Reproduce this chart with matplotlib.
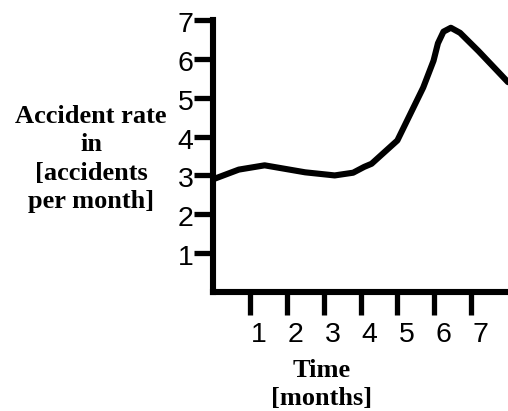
import matplotlib
matplotlib.use("Agg")
import matplotlib.pyplot as plt
from matplotlib.transforms import ScaledTranslation

# Data
time_months = [0, 0.7, 1.4, 2.5, 3.3, 3.8, 4.1, 4.3, 5.0, 5.7, 5.98, 6.1, 6.25, 6.45, 6.7, 7.2, 8.0]
accident_rate = [2.9, 3.15, 3.26, 3.08, 3.0, 3.07, 3.22, 3.3, 3.9, 5.26, 5.95, 6.4, 6.7, 6.8, 6.67, 6.2, 5.4]
x_ticks = [1, 2, 3, 4, 5, 6, 7]
y_ticks = [1, 2, 3, 4, 5, 6, 7]
x_label_lines = ["Time", "[months]"]
y_label = "Accident rate\nin\n[accidents\nper month]"

W, H = 508, 411
fig = plt.figure(figsize=(W / 100, H / 100), dpi=100)
ax = fig.add_axes([213 / W, (H - 292) / H, 295 / W, 272 / H])

ax.plot(time_months, accident_rate, color="black", lw=4.4,
        solid_joinstyle="round", solid_capstyle="round", clip_on=False)
ax.set_xlim(0, 8)
ax.set_ylim(0, 7)

for s in ["top", "right"]:
    ax.spines[s].set_visible(False)
for s in ["left", "bottom"]:
    ax.spines[s].set_linewidth(4.4)
    ax.spines[s].set_capstyle("projecting")

ax.set_xticks(x_ticks)
ax.set_yticks(y_ticks)
ax.set_xticklabels([str(v) for v in x_ticks], fontsize=20.5, family="Liberation Sans")
ax.set_yticklabels([str(v) for v in y_ticks], fontsize=20.5, family="Liberation Sans")
ax.tick_params(axis="x", direction="out", length=16.5, width=3.8, pad=5)
ax.tick_params(axis="y", direction="out", length=14, width=3.8, pad=0)

off = ScaledTranslation(9 / 100, 0, fig.dpi_scale_trans)
for lab in ax.get_xticklabels():
    lab.set_transform(lab.get_transform() + off)
offy = ScaledTranslation(0, -2 / 100, fig.dpi_scale_trans)
for lab in ax.get_yticklabels():
    lab.set_transform(lab.get_transform() + offy)

fig.text(91 / W, 1 - 159 / H, y_label, ha="center", va="center",
         fontsize=19, fontweight="bold", family="Liberation Serif", linespacing=1.3)
fig.text(322 / W, 1 - 370 / H, x_label_lines[0], ha="center", va="center",
         fontsize=19, fontweight="bold", family="Liberation Serif")
fig.text(322 / W, 1 - 398 / H, x_label_lines[1], ha="center", va="center",
         fontsize=19, fontweight="bold", family="Liberation Serif")

fig.savefig("out.png", dpi=100)
